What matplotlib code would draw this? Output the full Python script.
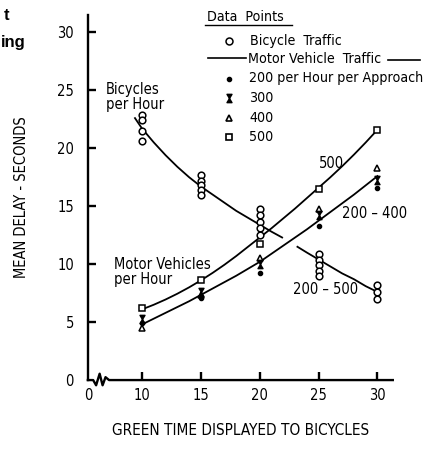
import matplotlib
matplotlib.use("Agg")
import matplotlib.pyplot as plt
from matplotlib.path import Path
from matplotlib.lines import Line2D

plt.rcParams['font.family'] = ['DejaVu Sans']
plt.rcParams['font.stretch'] = 'condensed'

# Bicycle traffic observations (green time, mean delay)
bike_x = [10, 10, 10, 10,
          15, 15, 15, 15, 15,
          20, 20, 20, 20, 20,
          25, 25, 25, 25, 25,
          30, 30, 30]
bike_y = [22.9, 22.4, 21.5, 20.6,
          17.7, 17.2, 16.8, 16.4, 16.0,
          14.8, 14.2, 13.6, 13.1, 12.5,
          10.9, 10.4, 9.9, 9.4, 9.0,
          8.2, 7.6, 7.0]

# Motor vehicle observations by volume (veh/hr per approach)
green = [10, 15, 20, 25, 30]
mv_200 = [4.9, 7.1, 9.2, 13.3, 16.6]
mv_300 = [5.3, 7.6, 10.0, 14.2, 17.3]
mv_400 = [4.5, 7.3, 10.5, 14.8, 18.3]
mv_500 = [6.2, 8.6, 11.7, 16.5, 21.6]

# fitted curves
bike_fit1_x = [9.4, 10, 11, 12, 13, 14, 15, 16, 17, 18, 19, 20, 21, 21.9]
bike_fit1_y = [22.6, 21.7, 20.5, 19.4, 18.4, 17.5, 16.7, 16.0, 15.3, 14.6, 14.0, 13.4, 12.8, 12.3]
bike_fit2_x = [23.2, 24, 25, 26, 27, 28, 29, 30.2]
bike_fit2_y = [11.5, 11.0, 10.4, 9.8, 9.2, 8.7, 8.1, 7.5]
fit500_x = [10, 11, 12, 13, 14, 15, 16, 17, 18, 19, 20, 21, 22, 23, 24, 25, 26, 27, 28, 29, 30]
fit500_y = [6.1, 6.5, 6.95, 7.45, 8.0, 8.6, 9.25, 9.95, 10.7, 11.5, 12.3, 13.1, 13.95, 14.8, 15.7, 16.6,
            17.5, 18.45, 19.45, 20.5, 21.6]
fit200_400_x = [10, 12, 14, 16, 18, 20, 22, 24, 26, 28, 30]
fit200_400_y = [4.8, 5.8, 6.8, 7.9, 9.0, 10.2, 11.6, 13.0, 14.5, 16.0, 17.6]

# hourglass marker for the 300 series
hourglass = Path([(-0.6, 1), (0.6, 1), (-0.6, -1), (0.6, -1), (-0.6, 1)],
                 [Path.MOVETO, Path.LINETO, Path.LINETO, Path.LINETO, Path.CLOSEPOLY])

fig = plt.figure(figsize=(4.35, 4.53), dpi=100)
ax = fig.add_axes([0.202, 0.161, 0.701, 0.806])

lw = 1.3
ax.plot(bike_fit1_x, bike_fit1_y, color='black', lw=lw)
ax.plot(bike_fit2_x, bike_fit2_y, color='black', lw=lw)
ax.plot(fit500_x, fit500_y, color='black', lw=lw)
ax.plot(fit200_400_x, fit200_400_y, color='black', lw=lw)

ax.plot(bike_x, bike_y, 'o', mfc='white', mec='black', ms=4.8, mew=1.1, ls='none')
ax.plot(green, mv_500, 's', mfc='white', mec='black', ms=4.5, mew=1.1, ls='none')
ax.plot(green, mv_400, '^', mfc='white', mec='black', ms=4, mew=1.1, ls='none')
ax.plot(green, mv_300, marker=hourglass, color='black', ms=6, ls='none')
ax.plot(green, mv_200, 'o', color='black', ms=3, ls='none')

# axes styling
x0 = 5.4
ax.set_xlim(x0, 31.3)
ax.set_ylim(0, 31.5)
for s in ['top', 'right', 'bottom']:
    ax.spines[s].set_visible(False)
ax.spines['left'].set_linewidth(1.7)

ax.set_xticks([x0, 10, 15, 20, 25, 30])
ax.set_xticklabels(['0', '10', '15', '20', '25', '30'])
ax.set_yticks([0, 5, 10, 15, 20, 25, 30])
ax.tick_params(axis='both', direction='in', length=6, width=1.7, labelsize=10.5)
ax.tick_params(axis='x', pad=6)
ax.tick_params(axis='y', pad=10)
ax.xaxis.get_major_ticks()[0].tick1line.set_visible(False)
ax.yaxis.get_major_ticks()[0].tick1line.set_visible(False)

# x axis with break
ax.plot([x0, 5.85, 6.1, 6.4, 6.65, 6.9, 7.2, 31.3],
        [0, 0, -0.45, 0.55, -0.45, 0.25, 0, 0],
        color='black', lw=1.7, clip_on=False)

fs = 10.5
ax.text(6.9, 25.7, 'Bicycles\nper Hour', fontsize=fs, va='top', ha='left', linespacing=1.0)
ax.text(7.6, 10.6, 'Motor Vehicles\nper Hour', fontsize=fs, va='top', ha='left', linespacing=1.0)
ax.text(26.1, 18.7, '500', fontsize=fs, va='center', ha='center')
ax.text(27.0, 14.4, '200 – 400', fontsize=fs, va='center', ha='left')
ax.text(22.8, 7.8, '200 – 500', fontsize=fs, va='center', ha='left')

ax.set_ylabel('MEAN DELAY - SECONDS', fontsize=10.5, labelpad=20)
ax.set_xlabel('GREEN TIME DISPLAYED TO BICYCLES', fontsize=11, labelpad=14)

# legend drawn by hand in figure pixels
W, H = 435.0, 453.0
def fx(px):
    return px / W
def fy(py):
    return 1 - py / H

lfs = 10.2
fig.text(fx(207), fy(17), 'Data  Points', fontsize=lfs, va='center', ha='left')
fig.add_artist(Line2D([fx(205), fx(292)], [fy(25), fy(25)], color='black', lw=1.0))
fig.text(fx(250), fy(41), 'Bicycle  Traffic', fontsize=lfs, va='center', ha='left')
fig.add_artist(Line2D([fx(229)], [fy(41)], marker='o', mfc='white', mec='black', ms=5, mew=1.1))
fig.text(fx(248), fy(59), 'Motor Vehicle  Traffic', fontsize=lfs, va='center', ha='left')
fig.add_artist(Line2D([fx(208), fx(246)], [fy(58), fy(58)], color='black', lw=1.2))
fig.add_artist(Line2D([fx(388), fx(420)], [fy(60), fy(60)], color='black', lw=1.2))
fig.text(fx(249), fy(78), '200 per Hour per Approach', fontsize=lfs, va='center', ha='left')
fig.add_artist(Line2D([fx(229)], [fy(79)], marker='o', color='black', ms=3))
fig.text(fx(249), fy(98), '300', fontsize=lfs, va='center', ha='left')
fig.add_artist(Line2D([fx(229)], [fy(98)], marker=hourglass, color='black', ms=6))
fig.text(fx(249), fy(118), '400', fontsize=lfs, va='center', ha='left')
fig.add_artist(Line2D([fx(229)], [fy(118)], marker='^', mfc='white', mec='black', ms=4.5, mew=1.2))
fig.text(fx(249), fy(137), '500', fontsize=lfs, va='center', ha='left')
fig.add_artist(Line2D([fx(229)], [fy(137)], marker='s', mfc='white', mec='black', ms=4.5, mew=1.2))

# fragments of the cropped caption at the left edge
fig.text(fx(9), fy(15), 't', fontsize=12, fontweight='bold', va='center', ha='right',
         family=['Liberation Sans', 'DejaVu Sans'], stretch='normal')
fig.text(fx(26), fy(42), 'ing', fontsize=12, fontweight='bold', va='center', ha='right',
         family=['Liberation Sans', 'DejaVu Sans'], stretch='normal')

fig.savefig('out.png', dpi=100)
